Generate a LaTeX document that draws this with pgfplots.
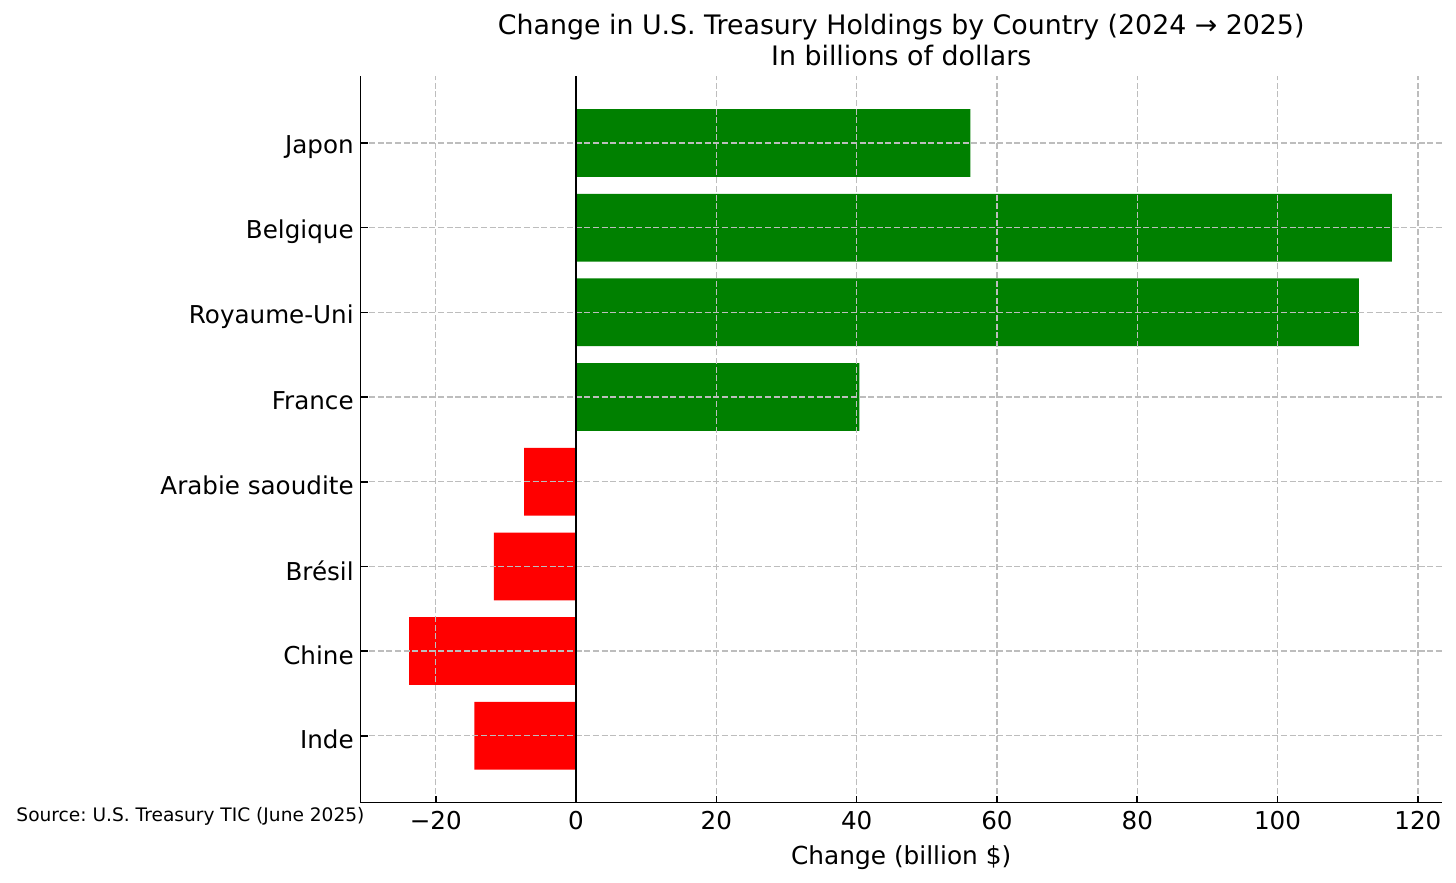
\documentclass[border=0pt]{standalone}
\usepackage{fontspec}
\setmainfont{DejaVu Sans}
\usepackage{pgfplots}
\pgfplotsset{compat=1.18}
\frenchspacing

\definecolor{posgreen}{HTML}{008000}
\definecolor{negred}{HTML}{FF0000}
\definecolor{gridgray}{HTML}{BDBDBD}

\begin{document}
\begin{tikzpicture}
  \begin{axis}[
      at={(0,0)}, anchor=south west,
      scale only axis,
      width=540.5pt, height=363.3pt,
      xbar, bar width=0.8, bar shift=0pt,
      xmin=-30.7, xmax=123.4,
      ymin=-0.79, ymax=7.79,
      axis x line*=bottom, axis y line*=left,
      axis line style={line width=0.8pt, -},
      axis on top,
      tick align=inside,
      major tick length=3.5pt,
      tick style={line width=0.8pt, black},
      xtick={-20,0,20,40,60,80,100,120},
      xticklabels={−20,0,20,40,60,80,100,120},
      ytick={0,1,2,3,4,5,6,7},
      yticklabels={Inde,Chine,Brésil,Arabie saoudite,France,Royaume-Uni,Belgique,Japon},
      ticklabel style={font=\fontsize{12.3}{14}\selectfont},
      xticklabel style={yshift=-0.75pt},
      yticklabel style={yshift=-2pt},
      grid=major,
      major grid style={gridgray, line width=0.65pt, dash pattern=on 3pt off 1.3pt},
      extra x ticks={0},
      extra x tick labels={},
      extra x tick style={grid=major, major grid style={black, solid, line width=1pt}, major tick length=0pt},
      xlabel={Change (billion \$)},
      xlabel style={at={(axis description cs:0.5,0)}, anchor=base, yshift=-31pt, inner sep=0pt,
        font=\fontsize{12.4}{14}\selectfont},
      title={Change in U.S. Treasury Holdings by Country (2024 → 2025)\\In billions of dollars},
      title style={at={(axis description cs:0.5,1)}, anchor=south, yshift=-1pt, inner sep=0pt,
        align=center, font=\fontsize{13.4}{15.5}\selectfont},
    ]
    % positive changes
    \addplot[fill=posgreen, draw=none] coordinates {
      (40.4,4) (111.6,5) (116.3,6) (56.2,7)
    };
    % negative changes
    \addplot[fill=negred, draw=none] coordinates {
      (-14.5,0) (-23.8,1) (-11.7,2) (-7.4,3)
    };
  \end{axis}
  \node[anchor=base west, inner sep=0pt, font=\fontsize{9.3}{11}\selectfont]
    at (-172.3pt,-9.5pt) {Source: U.S. Treasury TIC (June 2025)};
  \pgfresetboundingbox
  \useasboundingbox (-180.35pt,-40.15pt) rectangle (547.65pt,401.35pt);
\end{tikzpicture}
\end{document}
